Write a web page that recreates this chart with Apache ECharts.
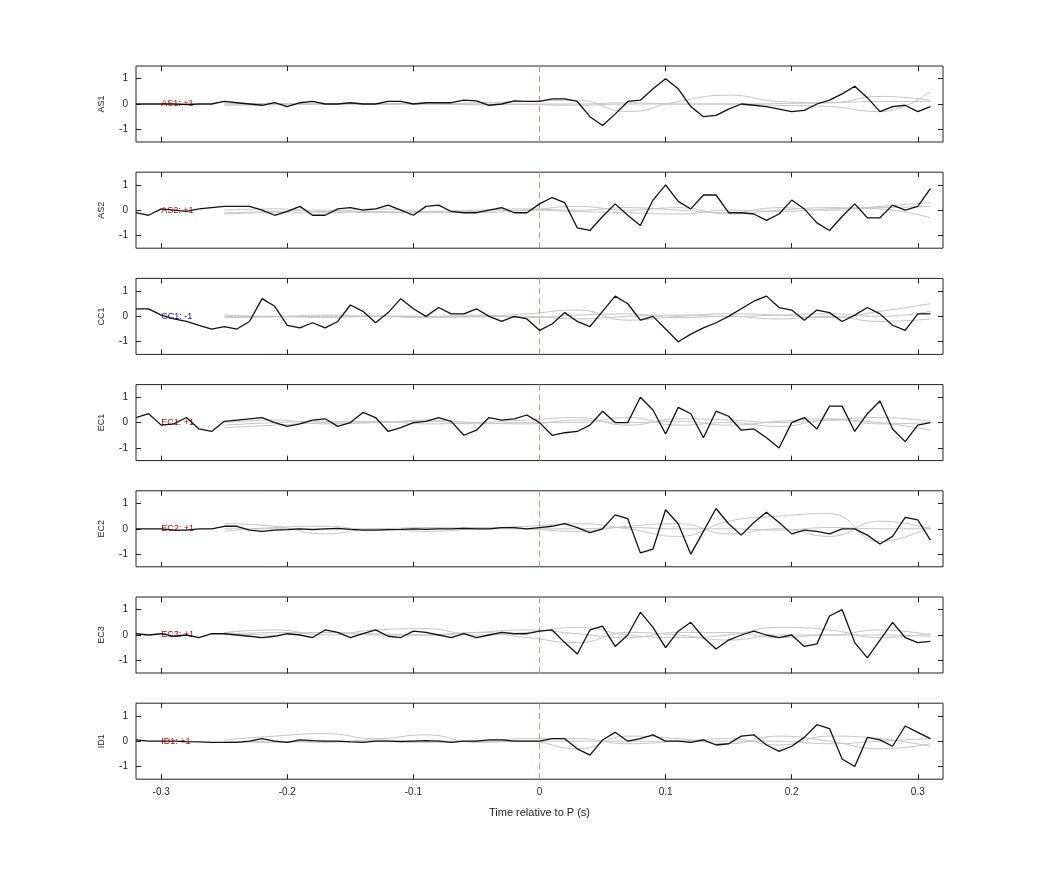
<!DOCTYPE html>
<html>
<head>
<meta charset="utf-8">
<script src="https://cdn.jsdelivr.net/npm/echarts@6/dist/echarts.min.js"></script>
<style>html,body{margin:0;padding:0;background:#fff}#main{width:1042px;height:875px}</style>
</head>
<body>
<div id="main"></div>
<script>
var stations = ["AS1", "AS2", "CC1", "EC1", "EC2", "EC3", "ID1"];
var polarity = ["+1", "+1", "-1", "+1", "+1", "+1", "+1"];
var xTicks = [-0.3, -0.2, -0.1, 0, 0.1, 0.2, 0.3];
var yTicks = [-1, 0, 1];

// black traces, one sample every 0.01 s from -0.32 to 0.31
var tBlack = [];
for (var k = -32; k <= 31; k++) tBlack.push(k / 100);

var as1 = [0,0,0,0,-0.02,0,0,0.1,0.05,0,-0.05,0.05,-0.1,0.05,0.1,0,0,0.05,0,0,0.1,0.1,0,0.05,0.05,0.05,0.15,0.12,-0.05,0,0.12,0.1,0.1,
  0.2,0.2,0.1,-0.5,-0.85,-0.4,0.1,0.15,0.6,1.0,0.6,-0.1,-0.5,-0.45,-0.2,0,-0.05,-0.1,-0.2,-0.3,-0.25,0,0.15,0.4,0.7,0.25,-0.3,-0.1,-0.05,-0.3,-0.1];
var as2 = [-0.1,-0.2,0.05,0,-0.05,0.05,0.1,0.15,0.15,0.15,0,-0.2,-0.05,0.15,-0.2,-0.2,0.05,0.1,0,0.05,0.2,0,-0.2,0.15,0.2,-0.05,-0.1,-0.1,0,0.1,-0.1,-0.1,0.25,
  0.5,0.3,-0.7,-0.8,-0.25,0.25,-0.2,-0.6,0.4,1.0,0.35,0.05,0.6,0.6,-0.1,-0.1,-0.15,-0.4,-0.15,0.4,0.05,-0.5,-0.8,-0.25,0.25,-0.3,-0.3,0.2,0,0.15,0.85];
var cc1 = [0.3,0.3,0.05,-0.1,-0.2,-0.35,-0.5,-0.4,-0.5,-0.2,0.7,0.4,-0.35,-0.45,-0.25,-0.45,-0.2,0.45,0.2,-0.25,0.15,0.7,0.3,0,0.35,0.1,0.1,0.3,0,-0.2,0,-0.1,-0.55,
  -0.3,0.15,-0.2,-0.4,0.2,0.8,0.5,-0.15,0,-0.5,-1.0,-0.7,-0.45,-0.25,0,0.3,0.6,0.8,0.35,0.25,-0.15,0.25,0.15,-0.2,0.05,0.35,0.1,-0.35,-0.55,0.1,0.1];
var ec1 = [0.2,0.35,-0.1,-0.05,0.2,-0.25,-0.35,0.05,0.1,0.15,0.2,0,-0.15,-0.05,0.1,0.15,-0.15,0,0.4,0.2,-0.35,-0.2,0,0.05,0.2,0.05,-0.5,-0.3,0.2,0.1,0.15,0.3,0,
  -0.5,-0.4,-0.35,-0.1,0.45,0,0,1.0,0.5,-0.45,0.6,0.35,-0.6,0.45,0.25,-0.3,-0.25,-0.6,-1.0,0,0.2,-0.25,0.65,0.65,-0.35,0.35,0.85,-0.25,-0.75,-0.1,0];
var ec2 = [0,0,0,-0.05,-0.05,0,0,0.1,0.1,-0.05,-0.1,-0.05,-0.03,0,-0.03,0,0.02,-0.02,-0.05,-0.05,-0.03,-0.02,0,-0.02,0,0,0.02,0,0,0.05,0.05,0,0.05,
  0.1,0.2,0.05,-0.15,0,0.55,0.4,-0.95,-0.8,0.75,0.2,-1.0,-0.1,0.8,0.2,-0.25,0.25,0.65,0.25,-0.2,-0.05,-0.1,-0.2,0,0,-0.25,-0.6,-0.3,0.45,0.35,-0.45];
var ec3 = [0.05,0,0.05,-0.05,0,-0.1,0.05,0.05,0,-0.05,-0.1,-0.05,0.05,0,-0.1,0.2,0.1,-0.1,0.05,0.2,-0.05,-0.1,0.15,0.1,0,-0.1,0.05,-0.1,0,0.1,0.05,0.05,0.15,
  0.2,-0.3,-0.75,0.2,0.35,-0.45,0,0.9,0.3,-0.5,0.15,0.5,-0.1,-0.55,-0.2,0,0.15,0,-0.1,0,-0.45,-0.35,0.75,1.0,-0.3,-0.9,-0.2,0.5,-0.1,-0.3,-0.25];
var id1 = [0.05,0,0,0,-0.02,-0.03,-0.05,-0.05,-0.05,0,0.1,0,-0.05,0.05,0.02,0,0,-0.03,-0.05,0,0,-0.02,0,0.02,0,-0.05,0,0,0.05,0.05,0,0,0,
  0.1,0.1,-0.3,-0.55,0.05,0.35,0,0.1,0.25,0,0,-0.05,0.05,-0.15,-0.1,0.2,0.25,-0.15,-0.4,-0.2,0.15,0.65,0.5,-0.7,-1.0,0.15,0.05,-0.2,0.6,0.35,0.1];
var blackTraces = [as1, as2, cc1, ec1, ec2, ec3, id1];

// grey synthetic traces, one sample every 0.04 s from -0.25 to 0.31
var tGrey = [];
for (var g = 0; g < 15; g++) tGrey.push(-0.25 + g * 0.04);

var greyTraces = [
  [[0,0.02,0,0.02,0,0.05,0.1,0.15,-0.3,0.1,0.35,0.1,0.05,0.3,0.15],
   [0,0,0,-0.02,0,0,-0.02,-0.05,0,0,0,-0.05,-0.1,-0.3,0.5],
   [-0.05,-0.03,0,0.02,0,-0.03,0,0,0.05,0,0,0.02,0.05,0.1,0.1]],
  [[-0.1,-0.05,0,-0.1,-0.05,0,0.05,0,0.1,0,-0.1,0.1,0,0.15,0.3],
   [0,0.05,-0.05,0.05,-0.05,-0.1,0,0.15,0,0.1,-0.15,0,0.1,0.05,-0.3],
   [-0.15,-0.1,-0.1,-0.05,-0.1,-0.05,0,-0.05,-0.1,-0.15,0,-0.05,0.05,0.1,0.15]],
  [[0,0,-0.05,0,-0.05,0,0.1,0.25,-0.15,0,0.1,0.05,-0.05,0.2,0.5],
   [0.05,0,0.05,0,0,0.05,-0.05,0.05,0.1,-0.05,0,-0.1,0,-0.2,-0.1],
   [-0.05,-0.02,0,0.02,0,-0.02,0,-0.1,0,0.05,0,0.05,0.1,0,0.2]],
  [[-0.2,-0.1,0,0.05,-0.05,0,0.1,0.2,-0.1,0.15,0.1,0,0.1,0.2,0.05],
   [0,0.1,-0.05,0,0.05,-0.05,0,0,0.2,-0.1,0,-0.15,0.1,0,-0.3],
   [-0.1,0,0.05,0,0.1,0,-0.05,0.1,0,0.05,-0.1,0.05,0.15,-0.05,0]],
  [[0.2,0.1,-0.2,0,-0.1,0,0.1,0.2,0,-0.3,0.3,0.5,0.6,-0.5,0.1],
   [-0.1,0.05,0.1,-0.05,0,0.05,0,-0.1,0.1,0.2,-0.2,0,-0.3,0.3,0],
   [0,0,0,0,0.05,0,0,0,0.05,0,0,-0.05,0.05,0,0]],
  [[0.1,0.2,0,0.2,0.25,0,0.1,0.3,0,-0.1,0,0.3,0.2,-0.1,0.05],
   [0,0.1,0.1,0,0,0.1,-0.1,-0.3,0.1,0,-0.2,0,0,0.2,0],
   [0.1,0,0.1,0.05,0,0.1,0.2,0.05,-0.1,0.1,0.1,-0.1,0,0,-0.05]],
  [[0.05,0.2,0.3,0.1,0.25,-0.05,0,-0.3,0.2,0.1,-0.1,0.2,0,-0.3,-0.1],
   [-0.05,0,-0.05,0.05,0,0,0.1,0.1,-0.1,0,0.1,-0.15,0.2,0.1,-0.2],
   [0,-0.05,0,0,-0.05,0,0,0,0,0,0,0,-0.1,0,0.1]]
];

var labelColors = ["#cc0000", "#cc0000", "#0000cc", "#cc0000", "#cc0000", "#cc0000", "#cc0000"];

function pairs(ts, vs) {
  return vs.map(function (v, i) { return [ts[i], v]; });
}

var grids = [], xAxes = [], yAxes = [], series = [];
stations.forEach(function (st, i) {
  var top = 66 + i * 106.2;
  grids.push({ left: 136, width: 807, top: top, height: 76, show: true, borderColor: "#222", borderWidth: 1 });
  var last = i === stations.length - 1;
  [["bottom", last], ["top", false]].forEach(function (p, j) {
    xAxes.push({
      type: "value", gridIndex: i, min: -0.32, max: 0.32, position: p[0],
      axisLine: { show: false, onZero: false }, splitLine: { show: false },
      axisTick: { inside: true, length: 5, lineStyle: { color: "#222" }, customValues: xTicks },
      axisLabel: { show: p[1], customValues: xTicks, color: "#222", fontSize: 10, margin: 8,
        formatter: function (v) { return String(Math.round(v * 10) / 10); } },
      name: (j === 0 && last) ? "Time relative to P (s)" : "",
      nameLocation: "middle", nameGap: 28, nameTextStyle: { color: "#222", fontSize: 11 }
    });
  });
  [["left", true], ["right", false]].forEach(function (p, j) {
    yAxes.push({
      type: "value", gridIndex: i, min: -1.5, max: 1.5, position: p[0],
      axisLine: { show: false, onZero: false }, splitLine: { show: false },
      axisTick: { inside: true, length: 5, lineStyle: { color: "#222" }, customValues: yTicks },
      axisLabel: { show: p[1], customValues: yTicks, color: "#222", fontSize: 10, margin: 8 },
      name: j === 0 ? st : "", nameLocation: "middle", nameGap: 30, nameRotate: 90,
      nameTextStyle: { color: "#222", fontSize: 9 }
    });
  });
  greyTraces[i].forEach(function (gt) {
    series.push({
      type: "line", xAxisIndex: i * 2, yAxisIndex: i * 2, data: pairs(tGrey, gt),
      smooth: true, showSymbol: false, silent: true,
      lineStyle: { color: "#c4c4c4", width: 1 }
    });
  });
  series.push({
    type: "line", xAxisIndex: i * 2, yAxisIndex: i * 2, data: pairs(tBlack, blackTraces[i]),
    showSymbol: false, lineStyle: { color: "#111", width: 1.3 }, z: 5,
    markLine: {
      silent: true, symbol: "none", label: { show: false },
      lineStyle: { color: "#d88a8a", type: [6, 4], width: 1 },
      data: [{ xAxis: 0 }]
    },
    markPoint: {
      symbol: "circle", symbolSize: 0,
      label: { show: true, position: "right", distance: 0, color: labelColors[i], fontSize: 9,
        formatter: st + ": " + polarity[i] },
      data: [{ coord: [-0.3, 0] }]
    }
  });
});

var chart = echarts.init(document.getElementById("main"));
chart.setOption({
  animation: false,
  textStyle: { fontFamily: "Liberation Sans, Arial, sans-serif" },
  grid: grids, xAxis: xAxes, yAxis: yAxes, series: series
});
</script>
</body>
</html>
